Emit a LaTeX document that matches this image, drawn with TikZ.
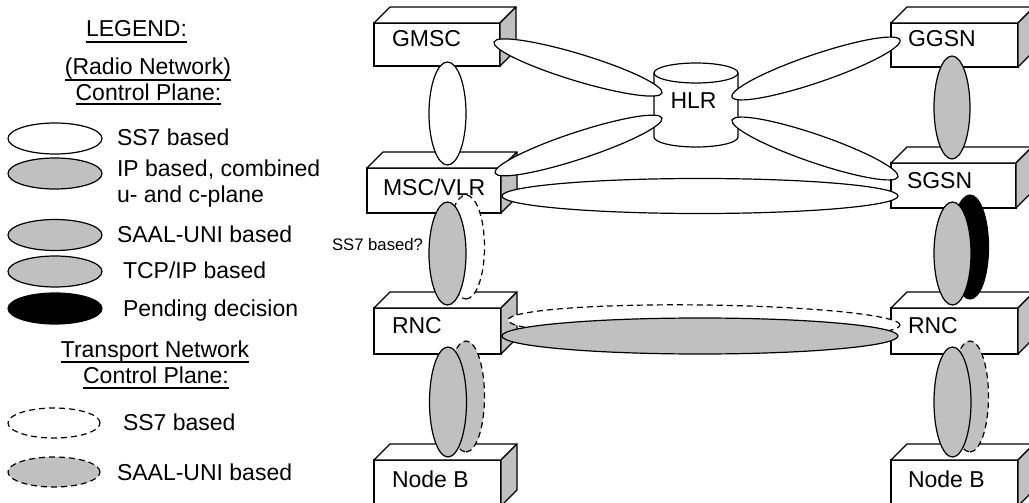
\documentclass[tikz,border=0pt]{standalone}
\usepackage{fontspec}
\setmainfont{Liberation Sans}
\usetikzlibrary{calc,shapes.geometric}
\definecolor{fillgray}{HTML}{C0C0C0}
\tikzset{
  box/.style={draw, fill=white, line width=1.2pt, inner sep=0pt, outer sep=0pt, rectangle},
  lbl/.style={inner sep=0pt, outer sep=0pt, anchor=base west, font=\fontsize{23}{26}\selectfont},
  hdr/.style={inner sep=0pt, outer sep=0pt, anchor=base, font=\fontsize{23}{26}\selectfont},
  small/.style={inner sep=0pt, outer sep=0pt, anchor=base west, font=\fontsize{16.7}{19}\selectfont},
  ov/.style={ellipse, draw, line width=1.2pt, inner sep=0pt, outer sep=0pt},
  ovwhite/.style={ov, fill=white},
  ovgray/.style={ov, fill=fillgray},
  ovblack/.style={ov, fill=black},
  ovdash/.style={dash pattern=on 6pt off 4pt},
  uline/.style={line width=1.2pt},
}
\newcommand\threed[1]{%
  \draw[line width=1.2pt, fill=white, line join=round] (#1.north west) -- ++(16,-16) -- ($(#1.north east)+(16,-16)$) -- (#1.north east) -- cycle;
  \draw[line width=1.2pt, fill=fillgray, line join=round] (#1.north east) -- ++(16,-16) -- ($(#1.south east)+(16,-16)$) -- (#1.south east) -- cycle;}
\newcommand\ovlink[4][]{%
  \path let \p1=($(#3)-(#2)$), \n1={veclen(\x1,\y1)} in (#2) -- (#3) node[midway, sloped, minimum width=\n1, minimum height=#4, #1] {};}
\begin{document}
\begin{tikzpicture}[x=1pt,y=-1pt]
\useasboundingbox (0,0) rectangle (1029,503);
\clip (0,0) rectangle (1029,503);
\fill[white] (0,0) rectangle (1029,503);

% ---------- Legend ----------
\node[hdr] (leg) at (136.5,37) {LEGEND:};
\draw[uline] ([yshift=-5pt]leg.base west) -- ([yshift=-5pt]leg.base east);
\node[hdr] (rn) at (148,75) {(Radio Network)};
\draw[uline] ([yshift=-5pt]rn.base west) -- ([yshift=-5pt]rn.base east);
\node[hdr] (cp1) at (148.5,100) {Control Plane:};
\draw[uline] ([yshift=-4pt]cp1.base west) -- ([yshift=-4pt]cp1.base east);

\node[ovwhite, minimum width=94, minimum height=31] (l1) at (55,138.5) {};
\node[lbl] (t1) at (117,146) {SS7 based};
\node[ovgray, minimum width=94, minimum height=31] (l2) at (55,173.5) {};
\node[lbl] (t2a) at (117,176) {IP based, combined};
\node[lbl] (t2b) at (117,202) {u- and c-plane};
\node[ovgray, minimum width=94, minimum height=31] (l3) at (55,235) {};
\node[lbl] (t3) at (117,242) {SAAL-UNI based};
\node[ovgray, minimum width=94, minimum height=31] (l4) at (55,271.5) {};
\node[lbl] (t4) at (123,278) {TCP/IP based};
\node[ovblack, minimum width=94, minimum height=31] (l5) at (55,308.5) {};
\node[lbl] (t5) at (123,316) {Pending decision};

\node[hdr] (tn) at (155,357) {Transport Network};
\draw[uline] ([yshift=-5pt]tn.base west) -- ([yshift=-5pt]tn.base east);
\node[hdr] (cp2) at (156,383) {Control Plane:};
\draw[uline] ([yshift=-5pt]cp2.base west) -- ([yshift=-5pt]cp2.base east);

\node[ovwhite, ovdash, minimum width=92, minimum height=30] (l6) at (54,423) {};
\node[lbl] (t6) at (123,430) {SS7 based};
\node[ovgray, ovdash, minimum width=92, minimum height=30] (l7) at (54,472) {};
\node[lbl] (t7) at (117,480) {SAAL-UNI based};

% ---------- Boxes ----------
\node[box, minimum width=126, minimum height=43] (gmsc) at (437,44.5) {};
\threed{gmsc}
\node[box, minimum width=127, minimum height=44] (ggsn) at (954.5,45) {};
\threed{ggsn}
\node[box, minimum width=134, minimum height=45] (msc) at (434,190.5) {};
\threed{msc}
\node[box, minimum width=125, minimum height=45] (sgsn) at (953.5,185.5) {};
\threed{sgsn}
\node[box, minimum width=127, minimum height=46] (rncl) at (437.5,331) {};
\threed{rncl}
\node[box, minimum width=127, minimum height=46] (rncr) at (954.5,331) {};
\threed{rncr}
\node[box, minimum width=127, minimum height=46] (nbl) at (437.5,483) {};
\threed{nbl}
\node[box, minimum width=127, minimum height=46] (nbr) at (954.5,483) {};
\threed{nbr}

\node[lbl] (gmscT) at (392,47) {GMSC};
\node[lbl] (ggsnT) at (908,47) {GGSN};
\node[lbl] (mscT) at (383,195) {MSC/VLR};
\node[lbl] (sgsnT) at (907,188) {SGSN};
\node[lbl] (rnclT) at (392,333) {RNC};
\node[lbl] (rncrT) at (908,333) {RNC};
\node[lbl] (nblT) at (392,487) {Node B};
\node[lbl] (nbrT) at (908,487) {Node B};

% ---------- HLR cylinder ----------
\draw[line width=1.2pt, fill=white] (654,73) -- (654,137) arc[start angle=180, end angle=0, x radius=42, y radius=10] -- (738,73);
\draw[line width=1.2pt, fill=white] (696,73) ellipse [x radius=42, y radius=10];
\node[hdr] (hlr) at (693.5,109) {HLR};

% ---------- tip coordinates ----------
\coordinate (a1) at (494,42);   \coordinate (a2) at (662,93);
\coordinate (b1) at (495,173);  \coordinate (b2) at (662,118);
\coordinate (c1) at (732,97);   \coordinate (c2) at (900,40);
\coordinate (d1) at (732,120);  \coordinate (d2) at (898,177);
\coordinate (e1) at (502,196);  \coordinate (e2) at (898,196);
\coordinate (f1) at (447.5,62); \coordinate (f2) at (447.5,165);
\coordinate (g1) at (952,56);   \coordinate (g2) at (952,159);
\coordinate (h1) at (466,195);  \coordinate (h2) at (466,299);
\coordinate (i1) at (447.5,202);\coordinate (i2) at (447.5,305);
\coordinate (j1) at (970,195);  \coordinate (j2) at (970,299);
\coordinate (k1) at (952.5,202);\coordinate (k2) at (952.5,305);
\coordinate (m1) at (508,320);  \coordinate (m2) at (900,325);
\coordinate (n1) at (502,336);  \coordinate (n2) at (898,336);
\coordinate (p1) at (466,341);  \coordinate (p2) at (466,452);
\coordinate (q1) at (448,347);  \coordinate (q2) at (448,457);
\coordinate (r1) at (970,341);  \coordinate (r2) at (970,452);
\coordinate (s1) at (952.5,347);\coordinate (s2) at (952.5,457);

% ---------- connecting ellipses ----------
\ovlink[ovwhite]{a1}{a2}{27}
\ovlink[ovwhite]{b1}{b2}{27}
\ovlink[ovwhite]{c1}{c2}{28}
\ovlink[ovwhite]{d1}{d2}{28}
\ovlink[ovwhite]{e1}{e2}{35}
\ovlink[ovwhite]{f1}{f2}{37}
\ovlink[ovgray]{g1}{g2}{36}
\ovlink[ovwhite, ovdash]{h1}{h2}{37}
\ovlink[ovgray]{i1}{i2}{37}
\ovlink[ovblack]{j1}{j2}{37}
\ovlink[ovgray]{k1}{k2}{37}
\ovlink[ovwhite, ovdash]{m1}{m2}{35}
\ovlink[ovgray]{n1}{n2}{36}
\ovlink[ovgray, ovdash]{p1}{p2}{37}
\ovlink[ovgray]{q1}{q2}{37}
\ovlink[ovgray, ovdash]{r1}{r2}{37}
\ovlink[ovgray]{s1}{s2}{37}

\node[small] (q) at (332,250) {SS7 based?};
\end{tikzpicture}
\end{document}
